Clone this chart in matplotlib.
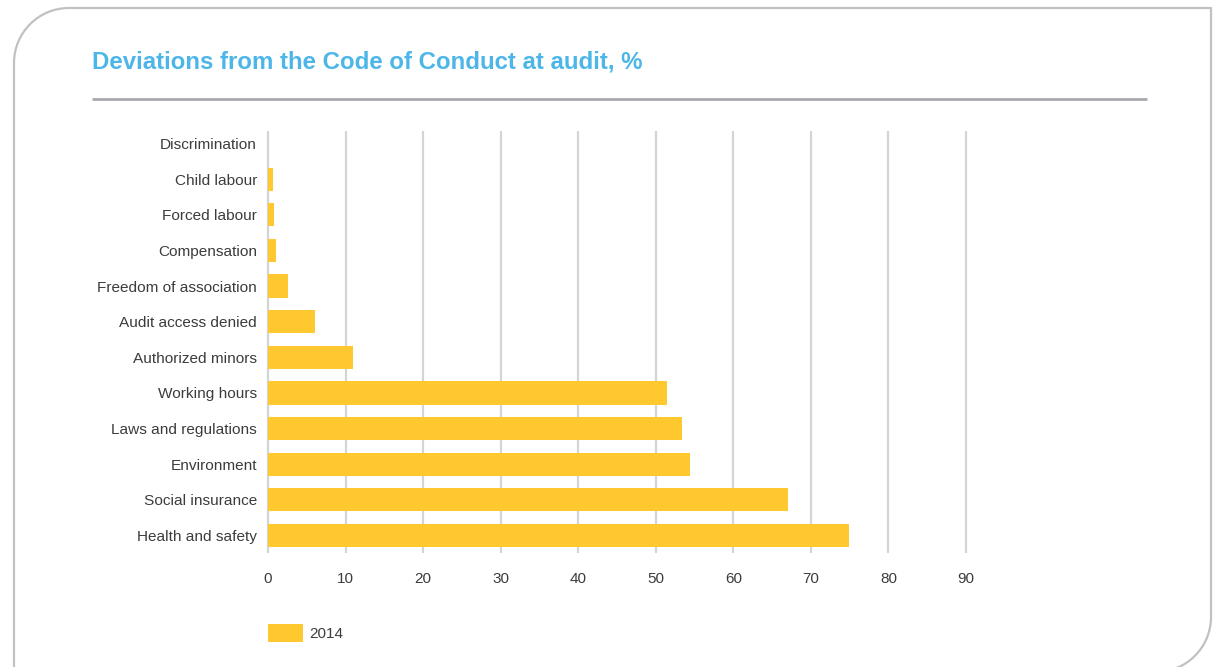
import matplotlib
matplotlib.use("Agg")
import matplotlib.pyplot as plt
from matplotlib.path import Path
from matplotlib.patches import PathPatch

plt.rcParams['font.family'] = ['Liberation Sans', 'DejaVu Sans']

# data, bottom to top
categories = ['Health and safety', 'Social insurance', 'Environment',
              'Laws and regulations', 'Working hours', 'Authorized minors',
              'Audit access denied', 'Freedom of association', 'Compensation',
              'Forced labour', 'Child labour', 'Discrimination']
values_2014 = [74.9, 67.1, 54.4, 53.4, 51.5, 10.9, 6.1, 2.6, 1.0, 0.8, 0.6, 0.0]
x_ticks = [0, 10, 20, 30, 40, 50, 60, 70, 80, 90]
series_label = '2014'

W, H = 1217, 667
fig = plt.figure(figsize=(W / 100, H / 100), dpi=100)

# overlay in pixel coordinates for frame, title and rule
bg = fig.add_axes([0, 0, 1, 1])
bg.set_xlim(0, W)
bg.set_ylim(H, 0)
bg.axis('off')

r = 55
k = 0.5523 * r
L, T, R, B = 14, 8, 1211, 672
verts = [(L, T + r), (L, T + r - k), (L + r - k, T), (L + r, T),
         (R, T), (R, B - r),
         (R, B - r + k), (R - r + k, B), (R - r, B),
         (L, B), (L, T + r)]
codes = [Path.MOVETO, Path.CURVE4, Path.CURVE4, Path.CURVE4,
         Path.LINETO, Path.LINETO,
         Path.CURVE4, Path.CURVE4, Path.CURVE4,
         Path.LINETO, Path.LINETO]
bg.add_patch(PathPatch(Path(verts, codes), facecolor='none',
                       edgecolor='#c1c1c5', lw=1.6))

bg.text(92, 68, 'Deviations from the Code of Conduct at audit, %',
        fontsize=17.3, fontweight='bold', color='#4db6e8', va='baseline', ha='left')
bg.plot([92, 1147], [99, 99], color='#a8a9ad', lw=2.0, solid_capstyle='butt')

# main chart
ax_l, ax_r, ax_t, ax_b = 268, 966, 131, 553
ax = fig.add_axes([ax_l / W, 1 - ax_b / H, (ax_r - ax_l) / W, (ax_b - ax_t) / H])
ypos = list(range(len(categories)))
bars = ax.barh(ypos, values_2014, height=0.65, color='#ffc82e', zorder=3,
               label=series_label)
ax.set_xlim(0, 90)
ax.set_ylim(-0.49, 11.35)
ax.vlines(x_ticks, -0.49, 11.35, color='#d4d4d4', lw=1.6, zorder=1, clip_on=False)
for s in ax.spines.values():
    s.set_visible(False)
ax.set_xticks(x_ticks)
ax.set_yticks(ypos)
ax.set_yticklabels(categories)
ax.tick_params(axis='x', length=0, pad=14, labelsize=11, labelcolor='#3c3c3c')
ax.tick_params(axis='y', length=0, pad=8, labelsize=11.1, labelcolor='#3c3c3c')
ax.set_facecolor('none')

fig.legend(handles=[bars], labels=[series_label], loc='center left',
           bbox_to_anchor=(268 / W, 1 - 633 / H), frameon=False, fontsize=11,
           handlelength=2.3, handleheight=1.4, handletextpad=0.4,
           borderpad=0, borderaxespad=0, labelcolor='#3c3c3c')

fig.savefig('out.png', dpi=100)
